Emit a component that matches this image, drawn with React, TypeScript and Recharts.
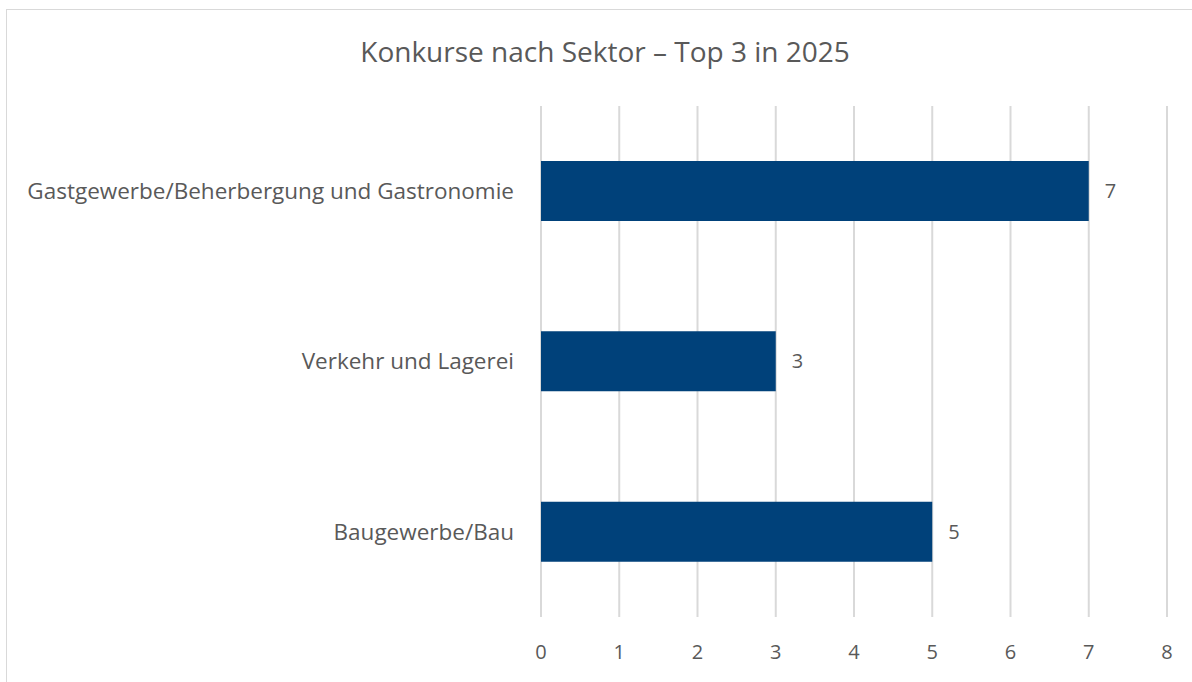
import { BarChart, Bar, XAxis, YAxis, CartesianGrid, LabelList } from 'recharts';

const sectors = ['Gastgewerbe/Beherbergung und Gastronomie', 'Verkehr und Lagerei', 'Baugewerbe/Bau'];
const bankruptcies = [7, 3, 5];
const xTicks = [0, 1, 2, 3, 4, 5, 6, 7, 8];

const data = sectors.map((sector, i) => ({ sector, value: bankruptcies[i] }));

const TEXT = '#595959';
const FONT = '"Open Sans", "Noto Sans", sans-serif';

export default function App() {
  return (
    <div style={{ position: 'absolute', left: 0, top: 0, width: 1192, height: 682, overflow: 'hidden', background: '#fff', fontFamily: FONT }}>
      <style>{'body{margin:0}'}</style>
      <div style={{ position: 'absolute', left: 6, top: 9, width: 1250, height: 750, border: '1px solid #d9d9d9', boxSizing: 'border-box' }} />
      <div style={{ position: 'absolute', left: 0, top: 32, width: 1210, textAlign: 'center', fontSize: 28, color: TEXT, lineHeight: 'normal' }}>
        Konkurse nach Sektor – Top 3 in 2025
      </div>
      <div style={{ position: 'absolute', left: 0, top: 0 }}>
        <BarChart
          width={1192}
          height={682}
          data={data}
          layout="vertical"
          margin={{ top: 106, right: 25, bottom: 25, left: 0 }}
          barSize={60}
        >
          <CartesianGrid horizontal={false} stroke="#d9d9d9" strokeWidth={2} />
          <XAxis
            type="number"
            domain={[0, 8]}
            ticks={xTicks}
            axisLine={false}
            tickLine={false}
            height={40}
            tickMargin={22}
            tick={{ fill: TEXT, fontSize: 20, fontFamily: FONT }}
          />
          <YAxis
            type="category"
            dataKey="sector"
            width={541}
            axisLine={false}
            tickLine={false}
            tickMargin={21}
            tick={{ fill: TEXT, fontSize: 22.5, fontFamily: FONT }}
          />
          <Bar dataKey="value" fill="#00417a" isAnimationActive={false}>
            <LabelList dataKey="value" position="right" offset={16} fill={TEXT} fontSize={20} fontFamily={FONT} />
          </Bar>
        </BarChart>
      </div>
    </div>
  );
}
